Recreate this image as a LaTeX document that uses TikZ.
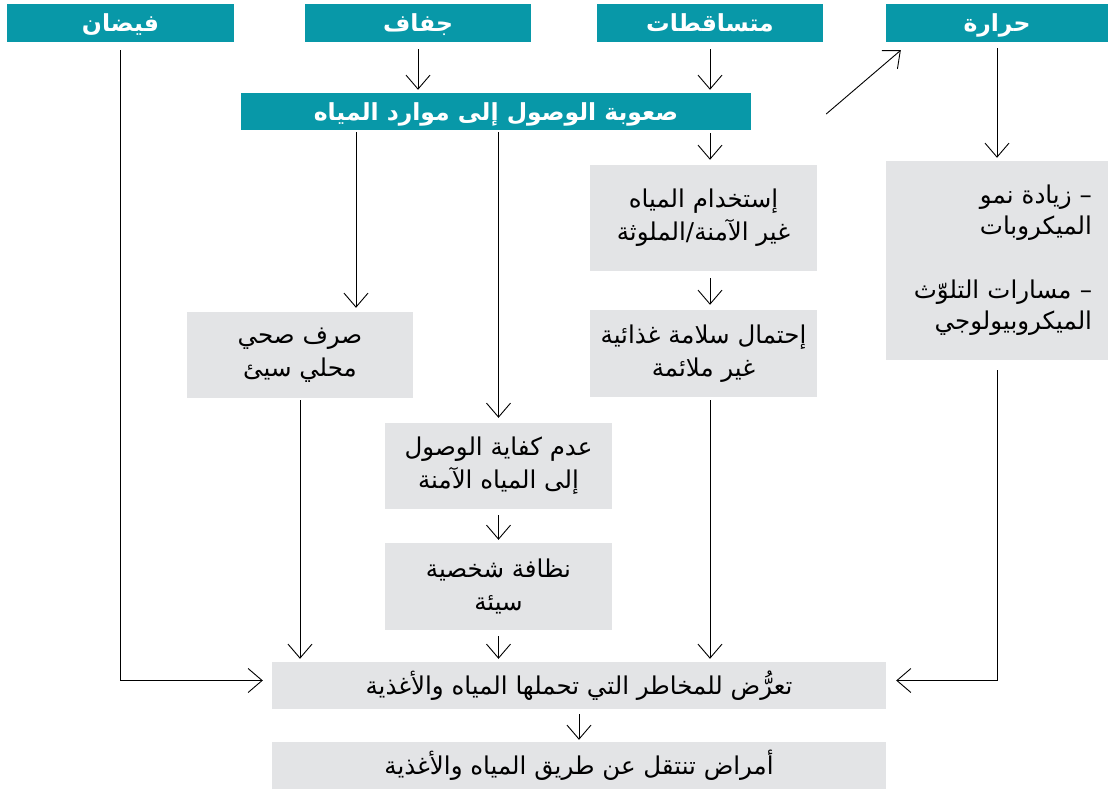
\documentclass[tikz,border=0pt]{standalone}
\usepackage{fontspec}
\newfontfamily\ar[Script=Arabic]{DejaVu Sans}
\TeXXeTstate=1
\usetikzlibrary{arrows.meta}
\definecolor{teal1}{RGB}{8,152,168}
\definecolor{gray1}{RGB}{227,228,230}
\begin{document}
\begin{tikzpicture}[x=1pt,y=-1pt,
  hd/.style={fill=teal1, text=white, font=\ar\bfseries\fontsize{23.5}{28}\selectfont, minimum height=38pt, inner sep=0pt, text height=22pt, text depth=4pt},
  gb/.style={fill=gray1, font=\ar\fontsize{24.5}{33}\selectfont, align=center, inner sep=0pt},
  arr/.style={-{Straight Barb[length=14pt,width=24pt]}, line width=0.9pt, shorten >=3pt, shorten <=7pt}]
\useasboundingbox (0,0) rectangle (1108,791);
% headers
\node[hd, minimum width=227pt] (flood) at (120.5,23) {\beginR فيضان\endR};
\node[hd, minimum width=226pt] (drought) at (418,23) {\beginR جفاف\endR};
\node[hd, minimum width=226pt] (precip) at (710,23) {\beginR متساقطات\endR};
\node[hd, minimum width=222pt] (heat) at (997,23) {\beginR حرارة\endR};
\node[hd, minimum width=510pt, minimum height=37pt] (scarcity) at (496,111.5) {\beginR صعوبة الوصول إلى موارد المياه\endR};
% grey boxes
\node[gb, minimum width=227pt, minimum height=106pt] (unsafe) at (703.5,218) {\beginR إستخدام المياه\endR\\\beginR غير الآمنة/الملوثة\endR};
\node[gb, font=\ar\fontsize{24.5}{31}\selectfont, align=right, text width=190pt, inner xsep=16pt, minimum height=199pt] (micro) at (997,260.5)
  {\beginR – زيادة نمو\endR\\\beginR الميكروبات\endR\\[33pt]\beginR – مسارات التلوّث\endR\\\beginR الميكروبيولوجي\endR\\[-4pt]};
\node[gb, minimum width=226pt, minimum height=86pt] (sanit) at (300,355) {\beginR صرف صحي\endR\\\beginR محلي سيئ\endR};
\node[gb, minimum width=227pt, minimum height=87pt] (food) at (703.5,353.5) {\beginR إحتمال سلامة غذائية\endR\\\beginR غير ملائمة\endR};
\node[gb, minimum width=227pt, minimum height=86pt] (access) at (498.5,466) {\beginR عدم كفاية الوصول\endR\\\beginR إلى المياه الآمنة\endR};
\node[gb, minimum width=227pt, minimum height=87pt] (hyg) at (498.5,586.5) {\beginR نظافة شخصية\endR\\\beginR سيئة\endR};
\node[gb, minimum width=614pt, minimum height=47pt] (expo) at (579,685.5) {\beginR تعرُّض للمخاطر التي تحملها المياه والأغذية\endR};
\node[gb, minimum width=614pt, minimum height=47pt] (disease) at (579,765.5) {\beginR أمراض تنتقل عن طريق المياه والأغذية\endR};
% helper coordinates
\coordinate (xA) at (356,0);
\coordinate (cL) at ([yshift=5pt]expo.west);
\coordinate (cR) at ([yshift=5pt]expo.east);
% connectors
\draw[arr] (drought.south) -- (drought.south |- scarcity.north);
\draw[arr] (precip.south) -- (precip.south |- scarcity.north);
\draw[arr, shorten <=3pt, shorten >=5pt] (precip.south |- scarcity.south) -- (precip.south |- unsafe.north);
\draw[arr, shorten >=5pt] (precip.south |- unsafe.south) -- (precip.south |- food.north);
\draw[arr, shorten <=2pt, shorten >=4pt] (xA |- scarcity.south) -- (xA |- sanit.north);
\draw[arr, shorten <=2pt, shorten >=5pt] (access.north |- scarcity.south) -- (access.north);
\draw[arr, shorten <=6pt] (access.south) -- (hyg.north);
\draw[arr, shorten <=2pt] (sanit.south) -- (sanit.south |- expo.north);
\draw[arr, shorten <=6pt] (hyg.south) -- (hyg.south |- expo.north);
\draw[arr, shorten <=3pt] (precip.south |- food.south) -- (precip.south |- expo.north);
\draw[arr, shorten <=8pt, shorten >=9pt] (flood.south) -- (flood.south |- cL) -- (cL);
\draw[arr, shorten <=6pt] (heat.south) -- (micro.north);
\draw[arr, shorten <=10pt, shorten >=10pt] (micro.south) -- (micro.south |- cR) -- (cR);
\draw[arr, shorten <=0pt, shorten >=0pt] ([xshift=75pt,yshift=-2.5pt]scarcity.east) -- ([xshift=15pt,yshift=-8pt]heat.south west);
\draw[arr, shorten <=5pt, shorten >=2pt] (expo.south) -- (disease.north);
\end{tikzpicture}
\end{document}
